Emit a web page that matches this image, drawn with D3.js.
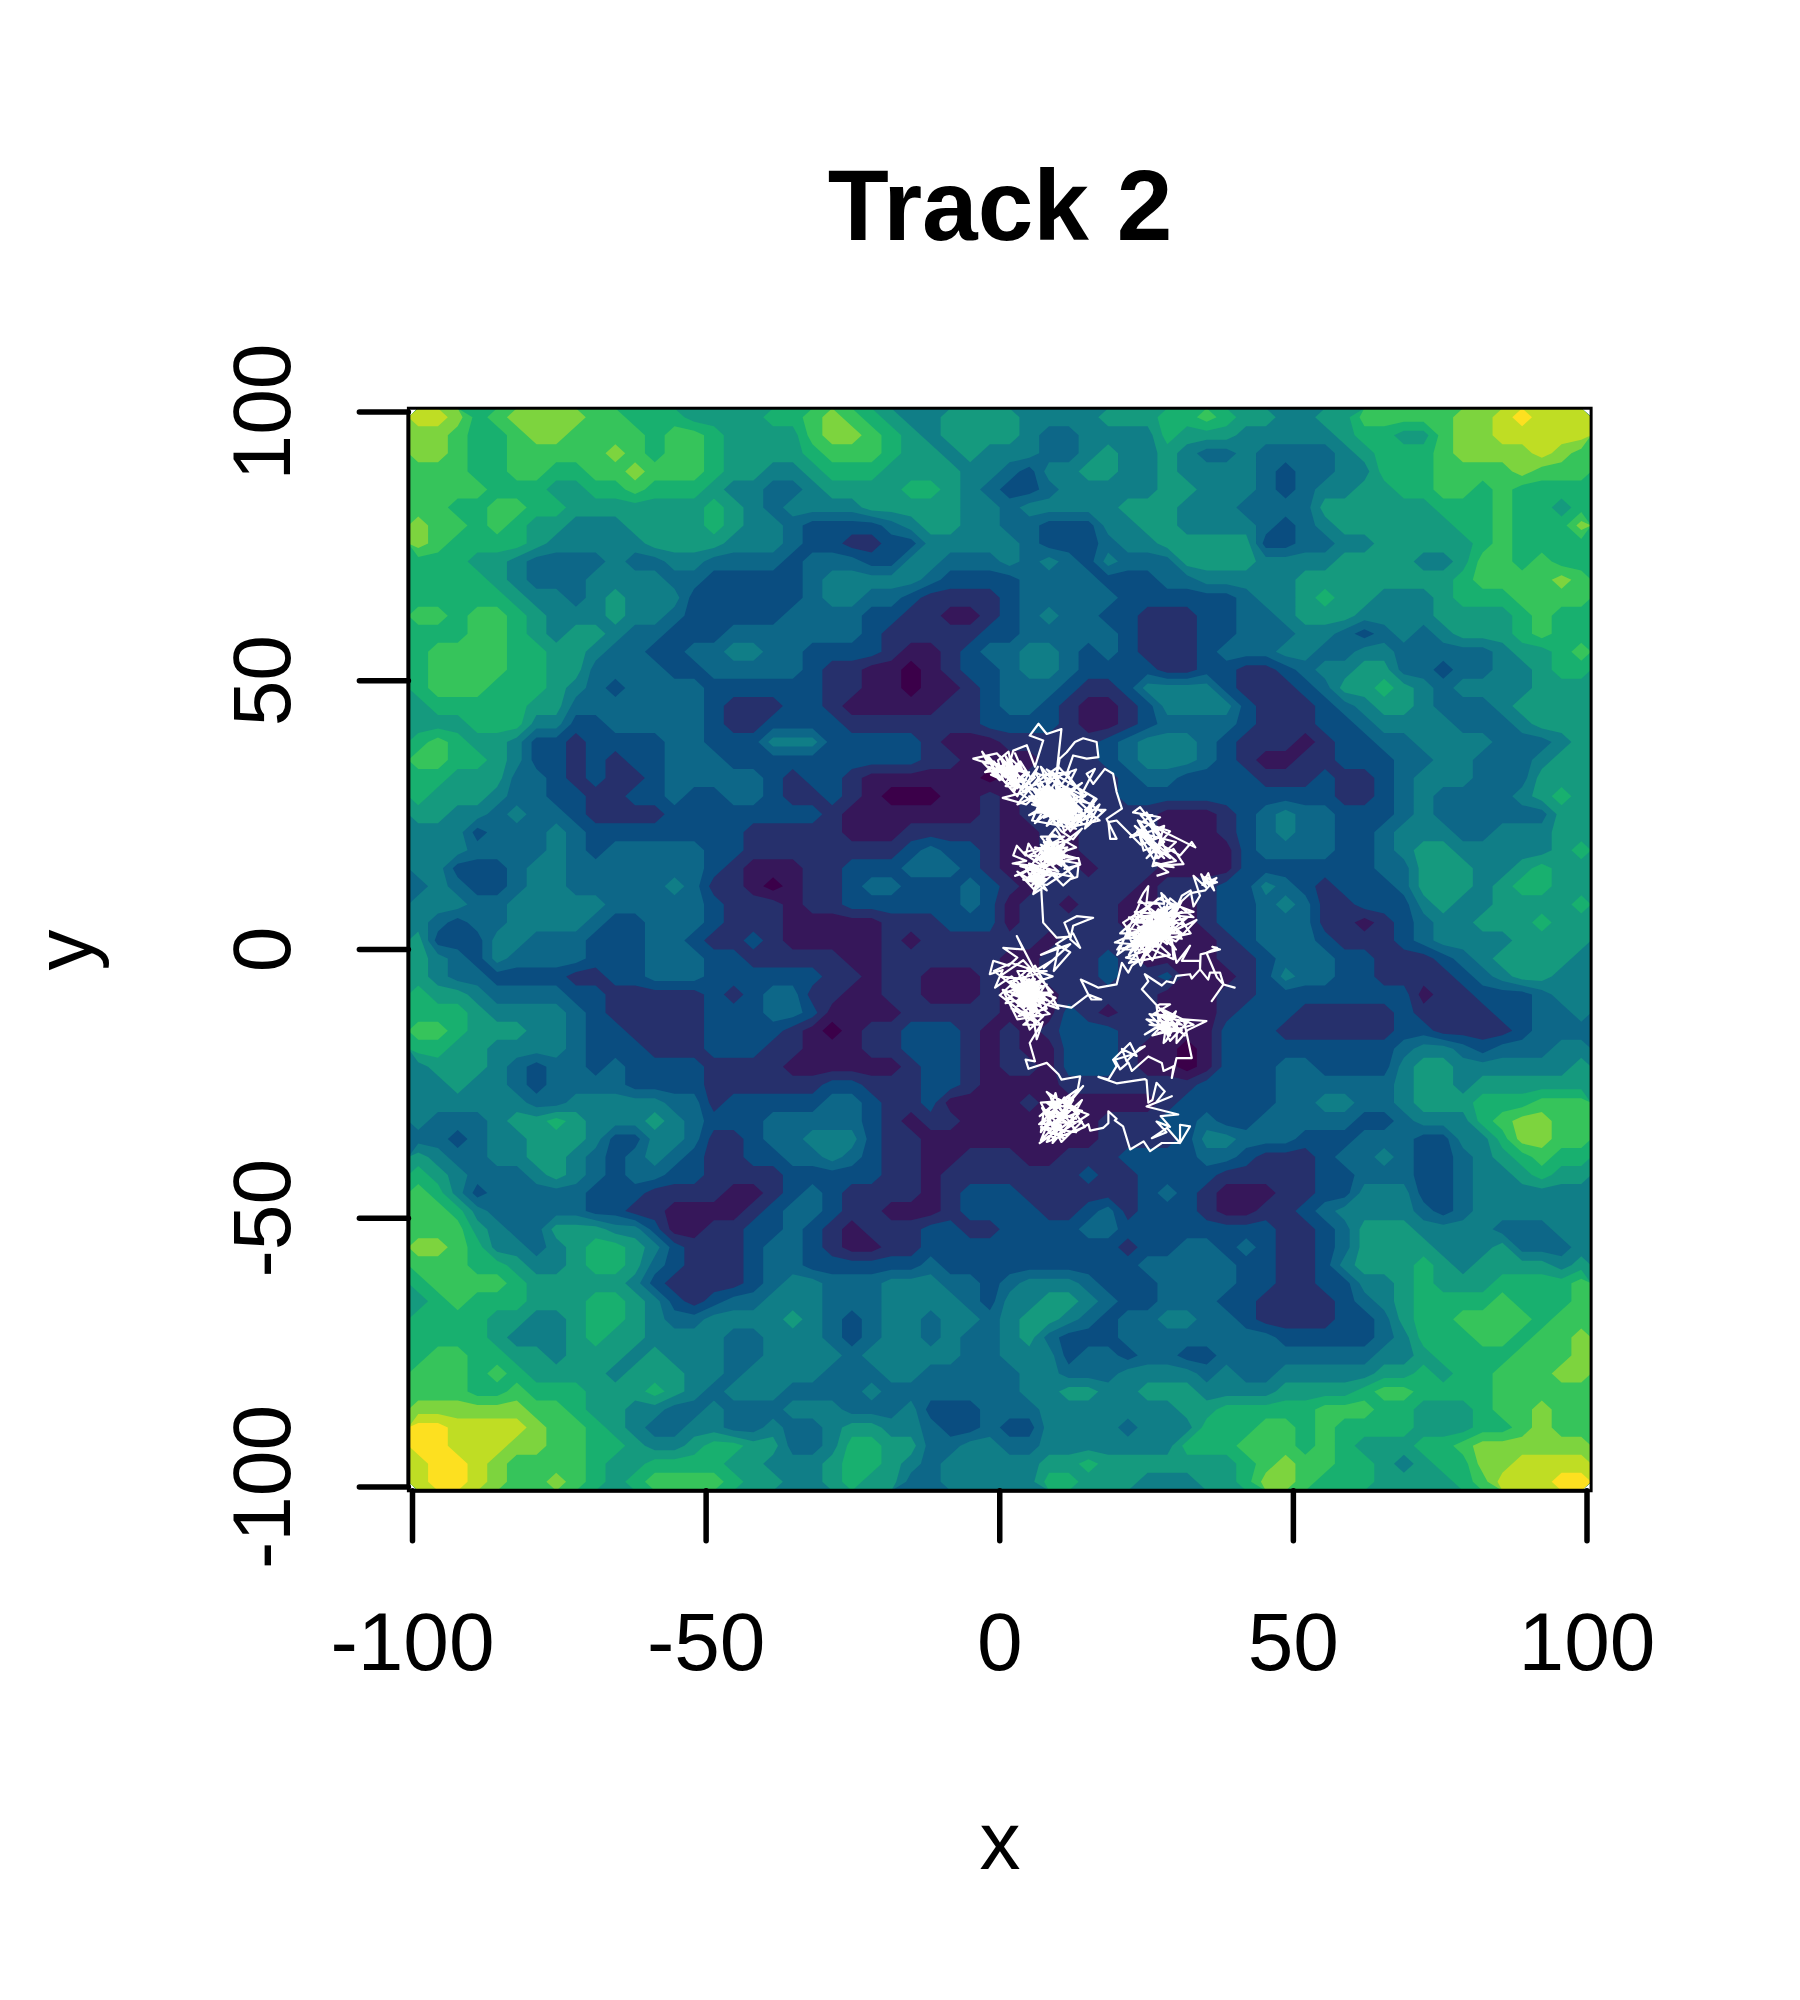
<!DOCTYPE html>
<html>
<head>
<meta charset="utf-8">
<script src="https://cdn.jsdelivr.net/npm/d3@7"></script>
<style>
body { margin: 0; background: #fff; }
text { font-family: "Liberation Sans", Arial, sans-serif; fill: #000; }
</style>
</head>
<body>
<svg id="chart" width="1800" height="2000"></svg>
<script>
const title = 'Track 2';
const xLabel = 'x';
const yLabel = 'y';
const xTicks = [-100, -50, 0, 50, 100];
const yTicks = [-100, -50, 0, 50, 100];

// raster levels, one string per row from top to bottom
const levelRows = [
"aa97899998877766667789876556666555566677876655668888899abaaa",
"99877899888878876666899876566665445555766655555677" + "66899aaaaa",
"998778888898788766667888766565554456556544544445677789999a98",
"888778877889888766556777666655435566556555543445577788889888",
"888877766778777655445666677654334555556655543455667788787777",
"887788776666666765455556666655455555666555444466666677787767",
"988787665556666765543333456655443335566555543456666667787779",
"987777655555666655543322335555543334556666633445566666787777",
"777665444454455444434443355444545435444666655556666556887877",
"777765444555544333334555554333344443334455555666666667888898",
"777776554565553333334554432222344444333333455676655567778888",
"887887655565543333344443322112345443322233445666555566667877",
"777887656654433344444443222223344444322233444554345456667877",
"788887766544334455443333211234455434322234445544554444456678",
"788887766444433444443221101233455433332233223455664434455677",
"788877765434444333333221101123444322355553222346676545555666",
"677777664444444322233211111223443211235555322234566544456666",
"666777553344444322333322222223333211234444322233455554445666",
"787665332333344333555333332111222223455543222123344555544456",
"887765332323344433333333332211112223455543211223334455444566",
"776664432322344444323321111110122222344333322232234555444666",
"766654433223343344322321000112122222333333333332234544445676",
"665545443222233333333211111112122222221112345443334544444466",
"555344454333333332222211122222112122221112345443345554455566",
"555444454344444332222222234332112122221111344443345665555567",
"553334554444444321112233344432111212221111333333344666556766",
"454334554444454221012234433343212222212223354323334666567766",
"555445555544444322212233333343122122112123345422333565566667",
"543445555433444322211111222333122222111123344422123455666766",
"633355444333443223211111212222221222211112344432223455556666",
"654354444333444332222211222222112223211112234443322234566665",
"654433332233444333333221221112112223223111235443322223456655",
"766544443322222323442211221112111222221112233333333122333455",
"777655554322222333443111122222111321221112333222223222233445",
"887666554332222333321012233321212333221113332222223322223444",
"776655554333222333221112233321211333211013333333334554344455",
"566654344343333222211111123321221333211013334433335665555556",
"556554344443333222222332223321111222222233334444445665666666",
"555555445555544233333443223111121111112333334455445666777888",
"544456676555654333444443212211111112223343344444334555789988",
"443455666533554223445553221111111112222355444333444335579988",
"654455665434543223344543221122211222333344322234454334567877",
"765444565434433222233333221222222232233332222233444334556766",
"875344444333222211234322221233322222234321112233555334555555",
"887544444332211112344322111233332234233321122345555434555555",
"888654466655311223343212223322333344333333332234666555544455",
"998755456776532223443211223333333333233443432234666655564445",
"888776556776432223443333334333333333344444332235666765666656",
"788887666665322223455444555443455543334444332233556766677778",
"678777666776532344555444555543556654334443322223456777787778",
"777766556776544555565434554554566543445544322223346778888788",
"777765556766555544555434554544564333444444443333345777887889",
"788776656665655544555545555544555344344334444444455677778889",
"888787666656665545555444554444455444555545445555566767788899",
"888778777666765455544445444444455665566655556666788777788888",
"999999887665544544455544453334445555555667777788877666788988",
"bbaaaa988765445544544566554334335555455577788787777666778988",
"bbaaa9988776556776644577664455445555555777888787666778999999",
"abba988887667777665556776545555566766666667898877656779 9aaaa".replace(" ", ""),
"abba988987678888766556766445555577666555667998777666678aaabba"
];

// colour of each raster level, low to high
const levelColors = ["#3b0049", "#36175a", "#26306c", "#0a4d80", "#0d6788", "#107e87",
  "#159a7e", "#18b06f", "#36c45b", "#7dd43e", "#bfdd24", "#fde020"];

// white track in data units, [x, y]
const track = [
[26.7,13.7],[28.7,14.4],[26.2,16.2],[29.6,15.3],[27.3,15.6],[31.3,15.9],[29.6,18.7],[26.2,16.8],[23.9,20.9],[24.5,18.4],[27.3,19.6],
[30.7,17.5],[32.7,20],[33.3,19],[27,22.4],[22.2,20.9],[25,23],[27.3,24.6],[22.7,25.5],[23.9,26.5],[25.6,24],[26.3,21],[25.5,18],[23.4,22],[28,17],[25,20],[27.5,18],[24,23.5],[26,25],
[24,25],[28,20],[25,17],[29,22],[23.5,24],[27,17],[30,20],[24.5,21.5],[28,23],[26,15.5],[30,16.5],[23,23],[26.5,19],[29,17],[25,25.5],[27.5,21],[24,19.5],[19.9,24],
[18.5,23.7],[18.8,20.6],[19.9,20.6],[18.2,24.3],[20.8,26.2],[19.9,29.3],[19.3,32.7],[17.9,33.6],[15.9,30.8],[14.8,32.7],[16.2,33.6],[14,29],
[11.4,32.7],[12.5,36.1],[14.8,35.5],[16.8,35.8],[16.5,38.6],[14.2,39.3],[12.8,38.6],[11.4,36.7],[10.2,35.5],[9.5,31],[10.5,41],[8,40.1],[6.6,42],[5.1,39.8],[7.4,38.9],
[6,34],[4.6,38],[2.3,37],[1.5,34],[-0.5,36.5],[-4.5,35.5],[-2,34.6],[-3,36.8],[-1.2,34],[-2.5,33],[0.5,33.5],[-1.5,32.5],[0.6,31.5],[-0.3,35.2],[1.5,36.8],[2,34],
[0.2,33.9],[2.5,32],[1,30.4],[3.2,30.2],[1.8,35.6],[3.8,33.5],[2.6,36.5],[4,33],
[-3,35],[0,31.5],[-2,36],[1,32],[-1,35],[2,31],[0,34],[3,30],[1,36],[4,31],[-2,34],[2,33],[-0.5,33],[3,34],[1,31],[5,30],[0,36],[2.5,29.5],[3.5,32],[1.5,34.5],[4.5,33],[2,30.5],[5,33],[3,28.5],[-1,33.5],[2,35],[0.5,32.5],[3,33],[1,34.5],[4,29.5],[-0.5,34.5],[2.5,31],[4.5,31.5],[1.5,33],[3.5,35],[5.5,31.5],[6.5,34],[4,30],[6,32],
[5,31],[8,26],[5.5,30],[10,25],[6,28],[11,26.5],[7,30],[12,24],[6.5,26.5],[10.5,28.5],[5,28.5],[9,24.5],[8,30],[13,25.5],[7.5,27],[12,28],[9,25.5],[6,29.5],[11,24],[8.5,29],
[13.5,24.5],[7,25.5],[10,30],[12.5,26.5],[8,28],[14,23.5],[9.5,26.5],[6.5,30.5],[11.5,25],[5.5,27],[10,27.5],[13,27],[7.5,24.5],[9,29.5],[12,23],[8,27],[11,29],[6,25.5],
[14.5,25],[9.5,23.5],[7,28.5],[12.5,25],[10,26],[8.5,24],[11.5,27.5],[7,26.5],[13,23],[9,28],[10.5,23.5],[6.5,27.5],[12,26],[8,25],[10.5,29.5],[14,26],[9,27],[11,25],
[7.5,29],[13,24],[8.5,26],[11,28],[10,24.5],[12,27.5],[9.5,25],[7.5,28],[11.5,23.5],[10,28.5],[8.5,27.5],[13.5,26.5],[6,27],
[7,31],[9.5,26],[6,30],[11.5,26],[7.5,26],[10,29],[8,29.5],[12.5,24],[8.5,25],[11,30],[6.5,28.5],[13,28],[9,24],[10,32],[7,27],[12,25],[8,31],[11,23.5],[9.5,30.5],[13.5,25.5],[7.5,30],[10.5,25],[8.5,28.5],[12,29],[6.5,29],[11,27],[9,26],[10,28],[8,26.5],[12.5,27.5],[7,29],[10.5,26.5],[9.5,29],[11.5,28.5],[8.5,30],[13,26],[10,23],[9,30],
[3,27],[7,32.5],[12,33],[6,23.5],[14,31],[5,25],[15,29],[8,23],[13,33.5],[4.5,30],[16,27],[11,22],[7,34],[15,24],[9,33],[5.5,24],[13,22.5],[3.5,29],[10,34],[14.5,28.5],[6,33],[12,22],[16.5,28],[8,33.5],
[14,27],[16,25],[14,24],[17,27],[15,23],[18,26],[14.5,26],[17,24],[13,23],[16,28],[14.5,22.5],[17.5,25.5],
[9,31.5],[4.5,27],[0.5,28.2],[5,29.5],[10.5,22],[12.5,20.5],[14,22.5],[11,20],[9.5,22.5],[8,20.5],
[9,19.5],[7.5,16],[11,18],[8,20],[10.5,15.5],[7,18],[11.5,19],[9,15.5],[7.5,19],[10.5,17],[8.5,20.5],[11,16],[7,17],[10,20],[9,16.5],[11.5,17.5],[8,15.5],[9.5,18.5],[7,19.5],[10,16],
[8,18],[10.5,19.5],[7.5,17.5],[11,19.5],[8.5,16],[10,18.5],[7,16.5],[9.5,20],[11,17],[8,19],[9,17.5],[10.5,18.5],[8.5,17.5],[9.5,16],[7.5,20],[10,17.5],[9,19],[8,16.5],[11.5,18.5],[9.5,17],
[12,15],[6,19],[13,17],[5,15],[9,21.5],[13,19],[6,16.5],[12,20.5],[4,18],[10,13.5],[3.5,15.5],[12.5,13.5],[7,21],[11,21],[5,17.5],[13.5,16],[8,12],[4,13],[9,14],[6,11],[3,14.5],[8,11],[5,16],[10,14.5],[7,17.5],
[13.4,17],[13.7,15.8],[11,15],[13.4,15.6],[13.2,13.5],[12,13.1],[10.8,11.9],[8,15],[6.5,17],[4.9,19.7],[4.4,17.5],[2.9,19.3],[2.3,17.5],[4.5,16.5],[2.2,16],[6,15.5],[2.6,13.7],[4,14.2],
[6,15.5],[7.5,12.5],[5,14],[7,15],[5.5,12],[8,14],[4.5,15],[6.5,11.5],[7.5,15],[5,12.8],[6,14],[8,13],[4.5,13],[6.5,15.5],[7,13],[5.5,14.5],[6.5,12.5],[7.5,14],[5.5,13],[6.8,14.5],[5.7,10.3],[7.1,11.3],
[7.1,10.6],[7.4,5],[9.7,2.2],[12,2.4],[11,5],[13.1,6.2],[15.9,5.9],[12.5,4.4],[12,1.9],[13.7,0.3],[12.5,3],[9.6,1],[12,-0.5],[9.2,-4],[10,0.5],[7,-1],[12,1],[7.5,-3.5],[9,-2],[6,-4],
[2.9,2.5],[4,0],[0.6,0.3],[3,-1.5],[1.5,-3],[-1.1,-2.1],[-1.7,-4.6],[0.5,-3.8],[-0.8,-7.1],[2,-5],
[3,-6],[6,-10],[2.5,-8.5],[7,-7],[4,-11],[5,-5.5],[8,-9.5],[2,-7],[5.5,-8],[3.5,-10],[7.5,-5.5],[4.5,-7],[6.5,-11.5],[1.5,-9],[6,-6],[3,-8],[8.5,-8],[5,-10.5],[4,-5],[7,-9],
[2.5,-6.5],[5.5,-12],[6.5,-7.5],[3.5,-9],[8,-6.5],[4.5,-8.5],[6,-9],[2,-8],[7,-10.5],[5,-6.5],[3.5,-6.5],[7.5,-8.5],[4,-9.5],[6,-7],[5,-9],[4.5,-6],[6.5,-9.5],[3,-9.5],[5.5,-6.8],[7,-8],
[4,-7.5],[6.5,-10.5],[3,-7],[7,-6],[4.5,-10],[5.5,-5.5],[7.5,-10],[3.5,-8],[6,-8],[4,-6],[6.5,-6.5],[5,-8],[3.5,-5.5],[6,-11],[4.5,-9],[7,-9.5],[5.5,-9.5],[2.5,-7.5],[6,-5.5],[5,-7],[4,-8.5],[6.5,-8.5],[3,-10.5],[5.5,-10.5],[7.5,-7],[4.5,-5.5],
[0,-5],[4,-2],[9,-8],[1,-10],[6,-3],[10,-11],[0.5,-7.5],[3,-13],[8.5,-12],[-1,-4],[2,-2.5],[9,-5],[1,-8],[7,-14],[4,-14],[9.5,-9],[1.5,-6],[8,-4],[3,-4],[7,-12.5],[2,-11],[6,-13.5],[0,-8.5],[5,-3.5],[8,-11],
[3.2,-12.4],[6,-10],[4.5,-13],[5.1,-14.9],[7.4,-12.4],[5.5,-11],[6.3,-16.7],[7.3,-13.5],[5.1,-17.4],[6,-20.8],[4.4,-20.5],[4.9,-22.2],[8,-21.1],[10,-23.2],[10.5,-24.2],[12,-23.9],[13.7,-23.6],[13.3,-26],
[6.8,-31],[10,-28],[8,-33],[12,-30],[7,-35.5],[9,-30],[13,-31.5],[8,-30],[11,-34],[14,-28],[9,-33],[7.2,-29.5],[12.5,-33],[10,-31],[14.2,-25.4],[11,-29],[15.1,-30.7],[9,-35],[7.5,-32],[13,-29.5],
[8.5,-27],[10.5,-33],[6.8,-36],[12,-32],[8,-28.5],[14,-30],[9.5,-32],[11,-35.2],[7,-33],[13,-34],[10,-29],[9.5,-26.7],[8,-31],[11.5,-31],[7.5,-30],
[7,-34],[11,-27.5],[14.5,-33],[8,-35.8],[12.5,-28],[7,-28.5],[10.5,-35.8],[14,-32],[6.7,-32.5],[12,-27],[9,-36],[13.5,-30.5],[8,-26.5],
[13.1,-33.8],[15.1,-32.5],[15.4,-33.7],[17.6,-33.2],[18.5,-32.3],[18.5,-30.1],[19.9,-31.5],[19.6,-31.8],[21,-32.9],[22.2,-37.2],[24.5,-35.7],[25.6,-37.5],[27.6,-36],[30.7,-36],[30.7,-32.6],
[32.4,-32.9],[30.7,-36],[28.5,-33.2],[25.9,-35.1],[28.4,-34],[26.7,-32],[29,-33],[27.4,-31],[30.4,-30.7],[25,-29.2],[29.3,-27.3],[26.6,-28.5],[28.1,-26.4],[26.7,-24.8],[26,-28],[25.3,-28.5],[25,-24.3],
[24.7,-24.1],[19.9,-24.9],[16.8,-23.7],[18.5,-24.2],[19.9,-21.7],[19.3,-20.5],[22.2,-17.4],[23.3,-19.8],[20.8,-18.5],[21.6,-20.8],[23.9,-18.3],[24.7,-18],[22.7,-19.5],[19.6,-20.5],[20.5,-22.3],[21.9,-21],[22.5,-22.6],
[25.3,-19.9],[27.6,-21.1],[27.9,-22.6],[29.6,-21.7],[29.3,-23.9],[30.1,-20.2],[32.7,-20.2],[31.8,-15.5],[31.3,-13],[35.2,-13.3],[32,-15],[30.1,-17.4],[30.2,-13.6],[28.3,-17],[27.9,-17.4],[28.4,-13.5],[24.7,-15.8],
[27.3,-14],[30,-12.5],[26.2,-12],[29,-10.2],[27.3,-10.2],[26.7,-10.5],[27,-13],[29,-14],[25.5,-14],[31,-15],[27,-15.5],[29.5,-15],[26.5,-14.5],[30,-14],[28,-12],[29,-16],
[25,-13],[31,-14],[27.5,-11],[33,-14],[26,-16],[30,-11.5],[28.5,-15.5],[25.5,-12],[32,-13.5],[29,-17],[27,-12],[31.5,-16],[24.2,-7.4],[25.3,-5.9],[24.7,-4.6],[27.6,-6.7],[28.4,-5.9],[29.6,-6.2],[30.1,-4.9],[32.4,-4.6],[32.7,-5.4],
[34.1,-3.7],[35.5,-5.6],[35.8,-4.3],[37.5,-4.3],[38.1,-6.5],[40,-7.1],[38.1,-6.5],[36.1,-9.6],[38.1,-6.5],[37,-5.2],[35.2,-0.6],[37,0.3],[36.2,0.5],[37.5,0],[34.2,-0.9],[34.1,-3.7],[34.1,-2.1],[31,-2.1],[32.4,0.7],
[30.1,-2.5],[29.3,1.6],[29.6,-1.8],[26,0],
[21,0],[26,4],[22,3],[27,1],[24,5.5],[29,4],[23,1],[28,6.5],[25,-1],[30,5],[24,2.5],[27,5],[22,-1],[26,7],[29,2],[23.5,4],[31,7],[25,1.5],[28,3],[21,2],
[26.5,2.5],[24,6.5],[30,3],[25.5,4.5],[23,-0.5],[28,8],[26,0.5],[32,6],[24.5,3.5],[27,7.5],[29.5,6],[22.5,1.5],[27.5,3.5],[25,5.5],[30.5,8.5],[28.5,1],[26,3],[24,0.5],[31.5,4.5],[27,6],
[25,2.5],[29,8],[23,5],[28,5],[26,1.5],[33.5,5.5],[30,1.5],[24.5,4.5],[27,0.5],[19.6,1.3],[23,3],[25.5,0],[21.5,-1.5],[24,-2],[26,2],
[23,2],[27,4],[24,1],[28,2],[25,6],[26.5,1],[23.5,2.5],[27.5,5.5],[24.5,-0.5],[29,5],[25,3.5],[26,5.5],[22.5,0],[28,4],[24,4],[26.5,3.5],[23.5,0.5],[27,2.5],[25.5,2],[28.5,7],[24.5,6],[30,7],
[20,-1],[24,9],[31,3],[20.5,3],[27,9.5],[33,7],[22,6],[29,-1],[22,-2.5],[31,9],[26,-2],[21,5],[28,10],[32.5,3],[20,0],[25,8],[30,0],[23,7],[33,6],[29,9.5],[24,-3],[21.5,4],[31,2],[27,8.5],
[23.6,8.7],[24.5,10.6],[25.3,11.8],[25,8.8],[28,8.5],[27.5,10.5],[30,7.5],[31,10],[32.5,11],[33,8],[34.1,10],[33,13.7],[35.2,11.5],[34.3,14],[35.6,12],[37,12.5],[35,13.5],[36.5,11],[35.5,14.2],[34.5,12],[36.9,13.3],[35,11],
[32.5,10.5],[28,6],[26,1],[24.5,-1.5],[22.5,-3],[21.9,-4.3],[20.8,-2.5],[19.9,-6.5],[16.8,-7.1],[16.2,-6.8],[13.8,-5.6],[15.1,-8.4],[15.6,-9.3],[17.3,-9.3],[15.1,-8.4],[12.2,-10.8],[9.1,-10.2],[6.5,-8]
];

const width = 1800, height = 2000;
const svg = d3.select('#chart');

// R draws the box a little outside the axis limits
const boxPad = 0.7;

const xScale = d3.scaleLinear().domain([-100, 100]).range([412.5, 1587]);
const yScale = d3.scaleLinear().domain([-100, 100]).range([1487, 412]);

const nCols = levelRows[0].length;
const nRows = levelRows.length;

const colScale = d3.scaleLinear()
    .domain([0, nCols])
    .range([xScale(-100 - boxPad), xScale(100 + boxPad)]);
const rowScale = d3.scaleLinear()
    .domain([0, nRows])
    .range([yScale(100 + boxPad), yScale(-100 - boxPad)]);

const values = [];
levelRows.forEach(row => {
    row.split('').forEach(ch => values.push(parseInt(ch, 16)));
});

// one filled band per level, painted low to high
const bands = d3.contours()
    .size([nCols, nRows])
    .thresholds(levelColors.map((c, i) => i - 0.5))(values);

const gridToPage = d3.geoTransform({
    point: function(x, y) { this.stream.point(colScale(x), rowScale(y)); }
});

svg.append('g')
    .selectAll('path')
    .data(bands)
    .enter().append('path')
    .attr('d', d3.geoPath(gridToPage))
    .attr('fill', (d, i) => levelColors[i]);

const line = d3.line()
    .x(d => xScale(d[0]))
    .y(d => yScale(d[1]));

svg.append('path')
    .datum(track)
    .attr('d', line)
    .attr('fill', 'none')
    .attr('stroke', '#fff')
    .attr('stroke-width', 2.2)
    .attr('stroke-linejoin', 'round');

// plot box
svg.append('rect')
    .attr('x', xScale(-100 - boxPad))
    .attr('y', yScale(100 + boxPad))
    .attr('width', xScale(100 + boxPad) - xScale(-100 - boxPad))
    .attr('height', yScale(-100 - boxPad) - yScale(100 + boxPad))
    .attr('fill', 'none')
    .attr('stroke', '#000')
    .attr('stroke-width', 3);

const xAxis = d3.axisBottom(xScale)
    .tickValues(xTicks)
    .tickFormat(d => String(d))
    .tickSize(50)
    .tickSizeOuter(0)
    .offset(0);

const yAxis = d3.axisLeft(yScale)
    .tickValues(yTicks)
    .tickFormat(d => String(d))
    .tickSize(49)
    .tickSizeOuter(0)
    .offset(0);

const xAxisG = svg.append('g')
    .attr('transform', `translate(0,${yScale(-100 - boxPad)})`)
    .call(xAxis);

const yAxisG = svg.append('g')
    .attr('transform', `translate(${xScale(-100 - boxPad)},0)`)
    .call(yAxis);

[xAxisG, yAxisG].forEach(g => {
    g.selectAll('.domain').attr('stroke', '#000').attr('stroke-width', 4);
    g.selectAll('.tick line')
        .attr('stroke', '#000')
        .attr('stroke-width', 5.5)
        .attr('stroke-linecap', 'round');
});

xAxisG.selectAll('.tick text')
    .attr('y', 0)
    .attr('dy', null)
    .attr('transform', 'translate(0,179)')
    .style('font-size', '82px')
    .style('text-anchor', 'middle');

yAxisG.selectAll('.tick text')
    .attr('x', 0)
    .attr('dy', null)
    .attr('transform', 'translate(-118,0) rotate(-90)')
    .style('font-size', '82px')
    .style('text-anchor', 'middle');

svg.append('text')
    .attr('x', 1000)
    .attr('y', 240)
    .attr('text-anchor', 'middle')
    .style('font-size', '100px')
    .style('font-weight', 'bold')
    .text(title);

svg.append('text')
    .attr('x', 1000)
    .attr('y', 1869)
    .attr('text-anchor', 'middle')
    .style('font-size', '82px')
    .text(xLabel);

svg.append('text')
    .attr('transform', `translate(92,950) rotate(-90)`)
    .attr('text-anchor', 'middle')
    .style('font-size', '82px')
    .text(yLabel);
</script>
</body>
</html>
